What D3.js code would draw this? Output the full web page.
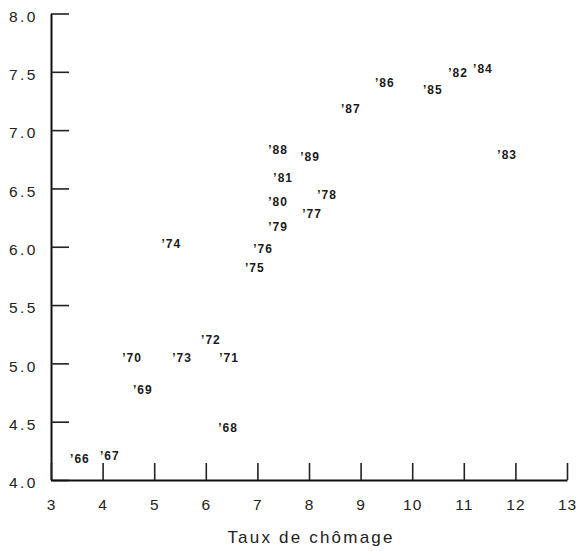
<!DOCTYPE html>
<html>
<head>
<meta charset="utf-8">
<script src="https://cdn.jsdelivr.net/npm/d3@7"></script>
<style>
  html, body { margin: 0; padding: 0; background: #fff; }
  svg { display: block; }
  .tick text { font-family: "Liberation Sans", Arial, sans-serif; fill: #222; }
</style>
</head>
<body>
<svg id="chart" width="582" height="551"></svg>
<script>
// Year labels, unemployment rate (x) and the second indicator (y)
const years = ["66","67","68","69","70","71","72","73","74","75","76","77",
               "78","79","80","81","82","83","84","85","86","87","88","89"];
const unemployment = [3.56, 4.14, 6.43, 4.78, 4.57, 6.45, 6.10, 5.54, 5.33, 6.95, 7.11, 8.06,
                      8.35, 7.40, 7.40, 7.50, 10.89, 11.84, 11.37, 10.40, 9.47, 8.81, 7.40, 8.02];
const yValues = [4.18, 4.21, 4.45, 4.77, 5.05, 5.05, 5.20, 5.05, 6.02, 5.82, 5.98, 6.28,
                 6.44, 6.17, 6.38, 6.59, 7.49, 6.79, 7.52, 7.34, 7.40, 7.18, 6.83, 6.77];

const xTicks = [3, 4, 5, 6, 7, 8, 9, 10, 11, 12, 13];
const yTicks = [4.0, 4.5, 5.0, 5.5, 6.0, 6.5, 7.0, 7.5, 8.0];
const xTitle = "Taux de chômage";

const svg = d3.select("#chart");
const margin = { left: 51, right: 15, top: 13.5, bottom: 71 };
const W = 582, H = 551;

const x = d3.scaleLinear().domain([3, 13]).range([margin.left, W - margin.right]);
const y = d3.scaleLinear().domain([4, 8]).range([H - margin.bottom, margin.top]);

// Y axis: ticks point inward, labels on the left
const gy = svg.append("g")
  .attr("transform", `translate(${margin.left},0)`)
  .call(d3.axisLeft(y).tickValues(yTicks).tickFormat(d3.format(".1f"))
        .tickSize(-18).tickSizeOuter(0).tickPadding(13));
gy.select(".domain").attr("stroke", "#111").attr("stroke-width", 2);
gy.selectAll(".tick line").attr("stroke", "#222").attr("stroke-width", 1.6);
gy.selectAll(".tick text").attr("font-size", 15.5).attr("letter-spacing", "2.5px")
  .attr("dy", "0.5em");

// X axis: ticks point upward, labels below
const gx = svg.append("g")
  .attr("transform", `translate(0,${y(4)})`)
  .call(d3.axisBottom(x).tickValues(xTicks).tickFormat(d3.format("d"))
        .tickSize(-17).tickSizeOuter(0).tickPadding(19));
gx.select(".domain").attr("stroke", "#111").attr("stroke-width", 2);
gx.selectAll(".tick line").attr("stroke", "#222").attr("stroke-width", 1.6);
gx.selectAll(".tick text").attr("font-size", 15.5).attr("letter-spacing", "1px");

// X axis title
svg.append("text")
  .attr("x", (x(3) + x(13)) / 2 + 2)
  .attr("y", 543)
  .attr("text-anchor", "middle")
  .attr("font-family", "Liberation Sans, Arial, sans-serif")
  .attr("font-size", 17)
  .attr("letter-spacing", "2.2px")
  .attr("fill", "#222")
  .text(xTitle);

// Each year is drawn as its own label at the data position
const pts = years.map((yr, i) => ({ yr, xv: unemployment[i], yv: yValues[i] }));
svg.append("g").selectAll("text")
  .data(pts)
  .join("text")
  .attr("x", d => x(d.xv))
  .attr("y", d => y(d.yv))
  .attr("text-anchor", "middle")
  .attr("dominant-baseline", "central")
  .attr("font-family", "Liberation Sans, Arial, sans-serif")
  .attr("font-size", 12)
  .attr("font-weight", "bold")
  .attr("letter-spacing", "1px")
  .attr("fill", "#1a1a1a")
  .text(d => "\u2019" + d.yr);
</script>
</body>
</html>
